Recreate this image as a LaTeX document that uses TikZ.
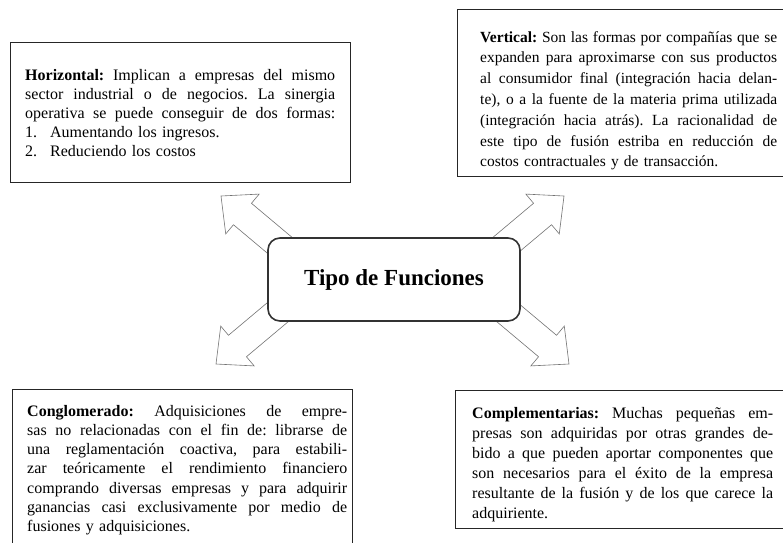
\documentclass[tikz,border=0pt]{standalone}
\usepackage{fontspec}
\setmainfont{Liberation Serif}
\frenchspacing
\newcommand{\jl}[1]{\makebox[\linewidth][s]{\spaceskip=0pt\xspaceskip=0pt #1}\\}
\newcommand{\numline}[2]{\makebox[25pt][l]{#1}#2}
\tikzset{
  framebox/.style={draw=black!85, line width=1.2pt, minimum width=340pt, anchor=north west},
  boxtext/.style 2 args={anchor=base west, inner sep=0pt, align=left, font=\fontsize{#1}{#2}\selectfont},
  bigarrow/.style={draw=black!55, line width=0.6pt, fill=white, line join=miter},
  centerbox/.style={draw=black!80, line width=1.6pt, fill=white, rounded corners=12pt,
    minimum width=252pt, minimum height=83pt, font=\bfseries\fontsize{23}{27}\selectfont}
}
\begin{document}
\begin{tikzpicture}[x=1pt, y=-1pt]
    \useasboundingbox (0,0) rectangle (783,542);
    \clip (0,0) rectangle (783,542);
    % the four frames
    \node[framebox, minimum height=140pt] (horiz) at (10,42) {};
    \node[framebox, minimum height=167pt] (vert) at (457,9) {};
    \node[framebox, minimum height=170pt] (congl) at (12,389) {};
    \node[framebox, minimum height=138pt] (compl) at (455,390) {};
    % texts
    \node[boxtext={16}{19}, text width=310pt] (horiztext) at (25,80) {%
      \jl{\textbf{Horizontal:} Implican a empresas del mismo}
      \jl{sector industrial o de negocios. La sinergia}
      \jl{operativa se puede conseguir de dos formas:}
      \numline{1.}{Aumentando los ingresos.}\\
      \numline{2.}{Reduciendo los costos}};
    \node[boxtext={15.5}{20.8}, text width=297pt] (verttext) at (480,42) {%
      \jl{\textbf{Vertical:} Son las formas por compañías que se}
      \jl{expanden para aproximarse con sus productos}
      \jl{al consumidor final (integración hacia delan-}
      \jl{te), o a la fuente de la materia prima utilizada}
      \jl{(integración hacia atrás). La racionalidad de}
      \jl{este tipo de fusión estriba en reducción de}
      costos contractuales y de transacción.};
    \node[boxtext={16}{19.3}, text width=320pt] (congltext) at (27,416) {%
      \jl{\textbf{Conglomerado:} Adquisiciones de empre-}
      \jl{sas no relacionadas con el fin de: librarse de}
      \jl{una reglamentación coactiva, para estabili-}
      \jl{zar teóricamente el rendimiento financiero}
      \jl{comprando diversas empresas y para adquirir}
      \jl{ganancias casi exclusivamente por medio de}
      fusiones y adquisiciones.};
    \node[boxtext={16}{20}, text width=301pt] (compltext) at (472,418) {%
      \jl{\textbf{Complementarias:} Muchas pequeñas em-}
      \jl{presas son adquiridas por otras grandes de-}
      \jl{bido a que pueden aportar componentes que}
      \jl{son necesarios para el éxito de la empresa}
      \jl{resultante de la fusión y de los que carece la}
      adquiriente.};
    % hollow arrows, tails hidden under the centre box
    \coordinate (tl) at (221,196);
    \coordinate (tr) at (564,196);
    \coordinate (bl) at (216,364);
    \coordinate (br) at (569,364);
    \foreach \tip/\ang in {tl/140, tr/40, bl/220, br/-40}
      \draw[bigarrow, shift={(\tip)}, rotate=\ang]
        (0,0) -- (-28,26) -- (-28,14) -- (-125,14) -- (-125,-14) -- (-28,-14) -- (-28,-26) -- cycle;
    \node[centerbox] (tipo) at (394,279.5) {Tipo de Funciones};
\end{tikzpicture}
\end{document}
